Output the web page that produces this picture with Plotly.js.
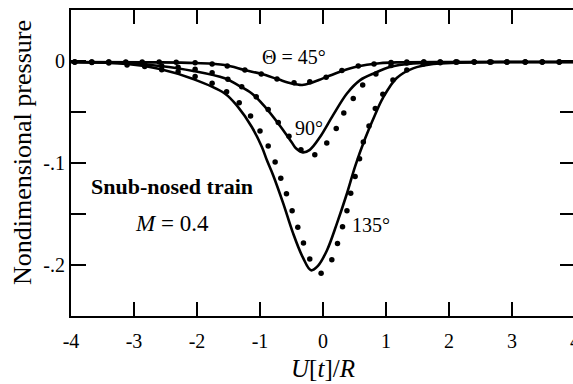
<!DOCTYPE html>
<html><head><meta charset="utf-8">
<script src="https://cdn.plot.ly/plotly-3.0.1.min.js"></script>
<style>html,body{margin:0;padding:0;overflow:hidden;background:#fff}#chart{width:600px;height:384px}</style>
</head><body><div id="chart"></div>
<script>
// Tick labels
const xTickVals = [-4,-3,-2,-1,0,1,2,3,4];
const xTickText = ['-4','-3','-2','-1','0','1','2','3','4'];
const yTickVals = [0,-0.05,-0.1,-0.15,-0.2];
const yTickText = ['0','','-.1','','-.2'];

// Theory (solid lines)
const line45X = [-4,-2.75,-2.03,-1.56,-1.24,-0.97,-0.71,-0.5,-0.33,-0.19,0,0.27,0.53,0.9,1.22,2.02,4];
const line45Y = [-0.001,-0.0013,-0.002,-0.0039,-0.0089,-0.0128,-0.018,-0.022,-0.0235,-0.0215,-0.017,-0.0105,-0.0056,-0.0022,-0.0013,-0.001,-0.001];

const line90X = [-4,-3.06,-2.59,-2.06,-1.56,-1.35,-1.13,-0.92,-0.71,-0.5,-0.43,-0.32,-0.21,-0.05,0.16,0.38,0.59,0.83,1.06,1.43,2.02,2.81,4];
const line90Y = [-0.001,-0.0025,-0.0049,-0.0098,-0.017,-0.0236,-0.0318,-0.045,-0.0613,-0.0794,-0.0856,-0.0896,-0.0871,-0.0748,-0.0531,-0.0318,-0.0187,-0.0115,-0.0059,-0.0025,-0.0013,-0.001,-0.001];

const line135X = [-4,-3.11,-2.59,-2.06,-1.56,-1.35,-1.13,-0.97,-0.89,-0.79,-0.63,-0.48,-0.32,-0.19,-0.08,0.06,0.22,0.38,0.51,0.67,0.83,0.95,1.17,1.43,1.75,2.13,2.81,4];
const line135Y = [-0.001,-0.003,-0.0079,-0.0177,-0.0318,-0.045,-0.0647,-0.0843,-0.0974,-0.1122,-0.1398,-0.168,-0.1926,-0.2052,-0.2008,-0.186,-0.1594,-0.1299,-0.1033,-0.0758,-0.0522,-0.0364,-0.0167,-0.0072,-0.003,-0.0017,-0.001,-0.001];

// Experiment (dots)
const dots45X = [-3.94,-3.67,-3.4,-3.13,-2.87,-2.6,-2.33,-2.03,-1.76,-1.52,-1.24,-0.98,-0.73,-0.46,-0.21,0.05,0.3,0.56,0.81,1.08,1.33,1.6,1.86,2.11,2.4,2.65,2.92,3.21,3.48,3.75];
const dots45Y = [-0.001,-0.001,-0.001,-0.001,-0.001,-0.001,-0.0013,-0.0017,-0.003,-0.0049,-0.0089,-0.0128,-0.0177,-0.0214,-0.0204,-0.016,-0.0094,-0.0049,-0.003,-0.0015,-0.001,-0.001,-0.001,-0.001,-0.001,-0.001,-0.001,-0.001,-0.001,-0.001];

const dots90X = [-3.94,-3.67,-3.4,-3.13,-2.83,-2.56,-2.3,-2.03,-1.76,-1.51,-1.29,-1.06,-0.87,-0.71,-0.54,-0.35,-0.13,0.06,0.21,0.33,0.48,0.63,0.84,1.08,1.33,1.6,1.86,2.11,2.4,2.65,2.92,3.21,3.48,3.75];
const dots90Y = [-0.001,-0.001,-0.001,-0.0014,-0.0034,-0.0049,-0.0062,-0.0082,-0.0115,-0.018,-0.0253,-0.0351,-0.0475,-0.0603,-0.0738,-0.0869,-0.0918,-0.0804,-0.0662,-0.0509,-0.0367,-0.0236,-0.0128,-0.0044,-0.002,-0.001,-0.001,-0.001,-0.001,-0.001,-0.001,-0.001,-0.001,-0.001];

const dots135X = [-3.94,-3.67,-3.4,-3.11,-2.83,-2.56,-2.3,-2.03,-1.76,-1.53,-1.33,-1.15,-1.0,-0.87,-0.76,-0.67,-0.58,-0.49,-0.4,-0.31,-0.21,-0.03,0.14,0.23,0.31,0.38,0.44,0.51,0.58,0.64,0.73,0.83,0.95,1.11,1.33,1.59,1.86,2.13,2.4,2.67,2.92,3.21,3.48,3.75];
const dots135Y = [-0.001,-0.0015,-0.002,-0.0038,-0.0055,-0.0087,-0.0105,-0.0151,-0.0217,-0.0302,-0.041,-0.0538,-0.0686,-0.0834,-0.0991,-0.1149,-0.1302,-0.1467,-0.1631,-0.1785,-0.1942,-0.208,-0.1949,-0.1789,-0.1624,-0.1467,-0.1296,-0.1132,-0.0958,-0.0794,-0.0637,-0.0466,-0.0325,-0.0187,-0.0089,-0.003,-0.0017,-0.001,-0.001,-0.001,-0.001,-0.001,-0.001,-0.001];

const serif = 'Liberation Serif, Times New Roman, serif';
function lineTrace(x, y, name){
  return {x:x, y:y, name:name, mode:'lines', type:'scatter',
    line:{color:'#000', width:2.6, shape:'spline', smoothing:1}, hoverinfo:'skip'};
}
function dotTrace(x, y, name){
  return {x:x, y:y, name:name, mode:'markers', type:'scatter',
    marker:{color:'#000', size:5.5}, hoverinfo:'skip'};
}
const data = [
  lineTrace(line45X, line45Y, 'Theory 45°'),
  lineTrace(line90X, line90Y, 'Theory 90°'),
  lineTrace(line135X, line135Y, 'Theory 135°'),
  dotTrace(dots45X, dots45Y, 'Experiment 45°'),
  dotTrace(dots90X, dots90Y, 'Experiment 90°'),
  dotTrace(dots135X, dots135Y, 'Experiment 135°')
];

const layout = {
  width: 600, height: 384,
  margin: {l:71, r:25, t:10, b:68},
  paper_bgcolor:'#fff', plot_bgcolor:'#fff',
  showlegend:false,
  font:{family:serif, color:'#000', size:20},
  xaxis:{
    range:[-4,4], tickvals:xTickVals, ticktext:xTickText,
    ticks:'inside', ticklen:14, tickwidth:1.5, tickcolor:'#000',
    showline:true, linecolor:'#000', linewidth:2, mirror:'ticks',
    showgrid:false, zeroline:false,
    tickfont:{family:serif, size:20, color:'#000'},
    ticklabelstandoff:6,
    title:{text:'<i>U</i>[<i>t</i>]/<i>R</i>', font:{family:serif, size:25, color:'#000'}, standoff:8}
  },
  yaxis:{
    range:[-0.25,0.05], tickvals:yTickVals, ticktext:yTickText,
    ticks:'inside', ticklen:15, tickwidth:1.5, tickcolor:'#000',
    showline:true, linecolor:'#000', linewidth:2, mirror:'ticks',
    showgrid:false, zeroline:false,
    tickfont:{family:serif, size:20, color:'#000'}
  },
  annotations:[
    {xref:'paper', yref:'paper', x:-0.095, y:0.533, xanchor:'center', yanchor:'middle', textangle:-90,
     text:'Nondimensional pressure', showarrow:false, font:{family:serif, size:26, color:'#000'}},
    {xref:'x', yref:'y', x:-0.46, y:0.004, text:'Θ = 45°', showarrow:false, font:{family:serif, size:20, color:'#000'}},
    {xref:'x', yref:'y', x:-0.22, y:-0.0657, text:'90°', showarrow:false, font:{family:serif, size:20, color:'#000'}},
    {xref:'x', yref:'y', x:0.76, y:-0.161, text:'135°', showarrow:false, font:{family:serif, size:20, color:'#000'}},
    {xref:'x', yref:'y', x:-2.4, y:-0.1235, text:'<b>Snub-nosed train</b>', showarrow:false, font:{family:serif, size:22, color:'#000'}},
    {xref:'x', yref:'y', x:-2.4, y:-0.159, text:'<i>M</i> = 0.4', showarrow:false, font:{family:serif, size:23, color:'#000'}}
  ]
};
Plotly.newPlot('chart', data, layout, {staticPlot:true, displayModeBar:false});
</script>
</body></html>
